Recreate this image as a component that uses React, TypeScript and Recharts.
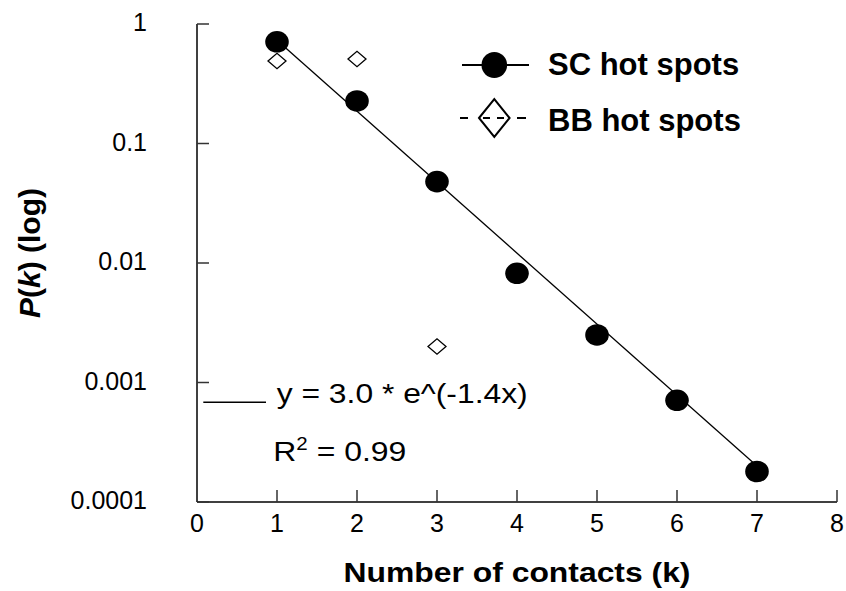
import React from "react";
import {
  ComposedChart,
  Scatter,
  Line,
  XAxis,
  YAxis,
  Legend,
  Label,
} from "recharts";

// values
const contacts = [1, 2, 3, 4, 5, 6, 7];
const scValues = [0.71, 0.227, 0.048, 0.0082, 0.0025, 0.00071, 0.00018];
const bbContacts = [1, 2, 3];
const bbValues = [0.49, 0.51, 0.002];
const fitContacts = [1, 7];
const fitValues = [0.73, 0.0002];
const xTicks = [0, 1, 2, 3, 4, 5, 6, 7, 8];
const yTicks = [0.0001, 0.001, 0.01, 0.1, 1];

const scData = contacts.map((k, i) => ({ k, p: scValues[i] }));
const bbData = bbContacts.map((k, i) => ({ k, p: bbValues[i] }));
const fitData = fitContacts.map((k, i) => ({ k, p: fitValues[i] }));

const FONT = "'Liberation Sans', Arial, sans-serif";

const YTick = (props: any) => {
  const { x, y, payload } = props;
  return (
    <g>
      <line x1={x + 50} x2={x + 62} y1={y} y2={y} stroke="#333" strokeWidth={1.5} />
      <text x={x} y={y + 7} textAnchor="end" fontSize={25} fontFamily={FONT} fill="#000">
        {String(payload.value)}
      </text>
    </g>
  );
};

const XTick = (props: any) => {
  const { x, y, payload } = props;
  return (
    <g>
      {payload.value !== 0 && (
        <line x1={x} x2={x} y1={y - 30} y2={y - 42} stroke="#333" strokeWidth={1.5} />
      )}
      <text x={x} y={y} textAnchor="middle" fontSize={25} fontFamily={FONT} fill="#000">
        {String(payload.value)}
      </text>
    </g>
  );
};

const Dot = (props: any) => (
  <ellipse cx={props.cx} cy={props.cy} rx={11.8} ry={10.8} fill="#000" />
);

const Diamond = (props: any) => {
  const { cx, cy } = props;
  return (
    <path
      d={`M${cx - 9},${cy} L${cx},${cy - 7.7} L${cx + 9},${cy} L${cx},${cy + 7.7} Z`}
      fill="#fff"
      stroke="#000"
      strokeWidth={1.3}
    />
  );
};

const renderLegend = () => (
  <svg width={320} height={110} style={{ display: "block" }}>
    <line x1={7} x2={74} y1={25} y2={25} stroke="#000" strokeWidth={2} />
    <ellipse cx={39.3} cy={25} rx={12.8} ry={13} fill="#000" />
    <text x={93} y={34.5} fontSize={31} fontWeight="bold" fontFamily={FONT}>
      SC hot spots
    </text>
    <line
      x1={5}
      x2={71}
      y1={78}
      y2={78}
      stroke="#000"
      strokeWidth={2}
      strokeDasharray="8 15 7 7 7 13 9"
    />
    <path d="M24,78 L39.3,59 L54.6,78 L39.3,97 Z" fill="none" stroke="#000" strokeWidth={2} />
    <text x={93} y={91} fontSize={31} fontWeight="bold" fontFamily={FONT}>
      BB hot spots
    </text>
  </svg>
);

export default function App() {
  return (
    <div style={{ position: "absolute", left: 0, top: 0, width: 846, height: 591, background: "#fff" }}>
      <ComposedChart
        width={846}
        height={591}
        margin={{ top: 24, right: 9, left: 0, bottom: 0 }}
      >
        <XAxis
          type="number"
          dataKey="k"
          domain={[0, 8]}
          ticks={xTicks}
          height={89}
          tickSize={0}
          tickMargin={30}
          tickLine={false}
          axisLine={{ stroke: "#000", strokeWidth: 1.5 }}
          tick={<XTick />}
          allowDataOverflow
        >
          <Label
            content={(p: any) => {
              const vb = p.viewBox;
              return (
                <text
                  x={vb.x + vb.width / 2}
                  y={582}
                  textAnchor="middle"
                  fontSize={28}
                  fontWeight="bold"
                  fontFamily={FONT}
                  textLength={347}
                  lengthAdjust="spacingAndGlyphs"
                >
                  Number of contacts (k)
                </text>
              );
            }}
          />
        </XAxis>
        <YAxis
          type="number"
          dataKey="p"
          scale="log"
          domain={[0.0001, 1]}
          ticks={yTicks}
          width={197}
          tickSize={0}
          tickMargin={50}
          tickLine={false}
          axisLine={{ stroke: "#000", strokeWidth: 1.5 }}
          tick={<YTick />}
          allowDataOverflow
        >
          <Label
            content={(p: any) => {
              const vb = p.viewBox;
              const cy = vb.y + vb.height / 2 - 10;
              return (
                <text
                  x={40}
                  y={cy}
                  transform={`rotate(-90, 40, ${cy})`}
                  textAnchor="middle"
                  fontSize={30}
                  fontWeight="bold"
                  fontFamily={FONT}
                >
                  <tspan fontStyle="italic">P</tspan>
                  <tspan>(</tspan>
                  <tspan fontStyle="italic">k</tspan>
                  <tspan>) (log)</tspan>
                </text>
              );
            }}
          />
        </YAxis>
        <Line
          data={fitData}
          dataKey="p"
          type="linear"
          stroke="#000"
          strokeWidth={1.3}
          dot={false}
          activeDot={false}
          isAnimationActive={false}
          legendType="none"
        />
        <Scatter data={bbData} dataKey="p" shape={<Diamond />} isAnimationActive={false} />
        <Scatter data={scData} dataKey="p" shape={<Dot />} isAnimationActive={false} />
        <Legend
          layout="vertical"
          align="center"
          verticalAlign="middle"
          content={renderLegend}
          wrapperStyle={{ left: 455, top: 40, width: 320, height: 110 }}
        />
      </ComposedChart>
      <svg
        width={360}
        height={100}
        style={{ position: "absolute", left: 190, top: 375 }}
      >
        <line x1={13.3} x2={76} y1={27.3} y2={27.3} stroke="#000" strokeWidth={1.5} />
        <text
          x={86.7}
          y={28.3}
          fontSize={28}
          fontFamily={FONT}
          textLength={251}
          lengthAdjust="spacingAndGlyphs"
        >
          y = 3.0 * e^(-1.4x)
        </text>
        <text
          x={83.3}
          y={85.7}
          fontSize={28}
          fontFamily={FONT}
          textLength={133}
          lengthAdjust="spacingAndGlyphs"
        >
          R<tspan fontSize={18} dy={-11}>2</tspan>
          <tspan dy={11}> = 0.99</tspan>
        </text>
      </svg>
    </div>
  );
}
